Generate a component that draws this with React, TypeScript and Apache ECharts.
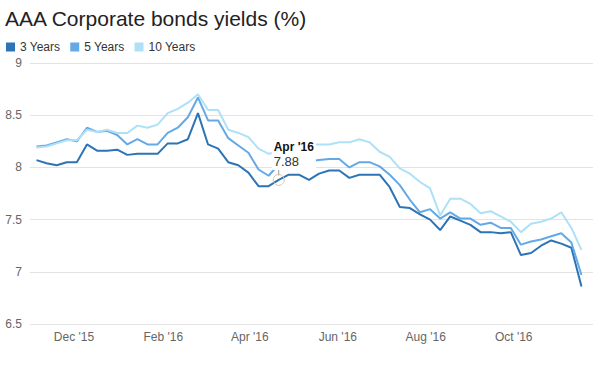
import React, { useEffect, useRef } from "react";
import * as echarts from "echarts";

const title = "AAA Corporate bonds yields (%)";
const seriesNames = ["3 Years", "5 Years", "10 Years"];
const seriesColors = ["#2c74b5", "#64a9e6", "#aee0f7"];

const dates = [
  "2015-11-05", "2015-11-12", "2015-11-19", "2015-11-26",
  "2015-12-03", "2015-12-10", "2015-12-17", "2015-12-24", "2015-12-31",
  "2016-01-07", "2016-01-14", "2016-01-21", "2016-01-28",
  "2016-02-04", "2016-02-11", "2016-02-18", "2016-02-25",
  "2016-03-03", "2016-03-10", "2016-03-17", "2016-03-24", "2016-03-31",
  "2016-04-07", "2016-04-14", "2016-04-21", "2016-04-28",
  "2016-05-05", "2016-05-12", "2016-05-19", "2016-05-26",
  "2016-06-02", "2016-06-09", "2016-06-16", "2016-06-23", "2016-06-30",
  "2016-07-07", "2016-07-14", "2016-07-21", "2016-07-28",
  "2016-08-04", "2016-08-11", "2016-08-18", "2016-08-25",
  "2016-09-01", "2016-09-08", "2016-09-15", "2016-09-22", "2016-09-29",
  "2016-10-06", "2016-10-13", "2016-10-20", "2016-10-27",
  "2016-11-03", "2016-11-10", "2016-11-17",
];

const years3 = [
  8.07, 8.04, 8.02, 8.05, 8.05, 8.22, 8.16, 8.16, 8.17, 8.12,
  8.13, 8.13, 8.13, 8.23, 8.23, 8.27, 8.52, 8.22, 8.18, 8.05,
  8.02, 7.95, 7.82, 7.82, 7.88, 7.93, 7.93, 7.88, 7.94, 7.97,
  7.97, 7.90, 7.93, 7.93, 7.93, 7.81, 7.62, 7.61, 7.55, 7.50,
  7.40, 7.53, 7.49, 7.45, 7.38, 7.38, 7.37, 7.38, 7.16, 7.18,
  7.25, 7.30, 7.27, 7.23, 6.86,
];

const years5 = [
  8.20, 8.21, 8.24, 8.27, 8.25, 8.38, 8.34, 8.35, 8.31, 8.22,
  8.27, 8.22, 8.22, 8.33, 8.38, 8.48, 8.67, 8.45, 8.45, 8.28,
  8.21, 8.14, 7.98, 7.92, 8.03, 8.06, 8.06, 8.06, 8.07, 8.08,
  8.08, 8.00, 8.05, 8.05, 8.01, 7.93, 7.83, 7.69, 7.57, 7.60,
  7.51, 7.57, 7.51, 7.51, 7.45, 7.47, 7.42, 7.42, 7.26, 7.29,
  7.31, 7.34, 7.37, 7.28, 6.97,
];

const years10 = [
  8.19, 8.20, 8.23, 8.26, 8.26, 8.36, 8.34, 8.36, 8.33, 8.33,
  8.40, 8.38, 8.41, 8.52, 8.56, 8.62, 8.70, 8.55, 8.55, 8.36,
  8.33, 8.29, 8.18, 8.13, 8.15, 8.20, 8.21, 8.22, 8.22, 8.22,
  8.24, 8.24, 8.27, 8.24, 8.15, 8.10, 7.99, 7.94, 7.86, 7.80,
  7.54, 7.70, 7.70, 7.65, 7.56, 7.58, 7.53, 7.48, 7.38, 7.46,
  7.48, 7.51, 7.57, 7.42, 7.21,
];

const monthAbbr = ["Jan", "Feb", "Mar", "Apr", "May", "Jun", "Jul", "Aug", "Sep", "Oct", "Nov", "Dec"];
const xTickMonths = [
  [2015, 11], [2016, 1], [2016, 3], [2016, 5], [2016, 7], [2016, 9],
];
const yTicks = { min: 6.5, max: 9, interval: 0.5 };
const highlightIndex = 24;

function toTs(s: string) {
  const p = s.split("-").map(Number);
  return new Date(p[0], p[1] - 1, p[2]).getTime();
}

function monthLabel(ts: number) {
  const d = new Date(ts);
  return monthAbbr[d.getMonth()] + " '" + String(d.getFullYear()).slice(2);
}

export default function App() {
  const ref = useRef<HTMLDivElement>(null);
  useEffect(() => {
    if (!ref.current) return;
    const chart = echarts.init(ref.current, undefined, { renderer: "svg" });
    const allSeries = [years3, years5, years10];
    const xs = dates.map(toTs);
    const hlX = xs[highlightIndex];
    const hlVal = years3[highlightIndex];
    const hlName = monthLabel(hlX);

    chart.setOption({
      animation: false,
      textStyle: { fontFamily: "Liberation Sans, Arial, sans-serif" },
      title: {
        text: title,
        left: 0,
        top: 3,
        textStyle: { fontSize: 21, fontWeight: "normal", color: "#222", fontFamily: "Liberation Sans, Arial, sans-serif" },
      },
      legend: {
        left: 1,
        top: 36,
        icon: "rect",
        itemWidth: 9,
        itemHeight: 9,
        itemGap: 10,
        textStyle: { fontSize: 12, color: "#333" },
        data: seriesNames,
      },
      grid: { left: 30, right: 14, top: 63, bottom: 42, containLabel: false },
      xAxis: {
        type: "value",
        min: new Date(2015, 9, 31, 12).getTime(),
        max: new Date(2016, 10, 25, 0).getTime(),
        axisLine: { show: false },
        axisTick: { show: false },
        splitLine: { show: false },
        axisLabel: {
          customValues: xTickMonths.map(([y, m]) => new Date(y, m, 1).getTime()),
          formatter: (v: number) => monthLabel(v),
          color: "#666",
          fontSize: 12,
          margin: 7,
        },
      },
      yAxis: {
        type: "value",
        min: yTicks.min,
        max: yTicks.max,
        interval: yTicks.interval,
        axisLine: { show: false },
        axisTick: { show: false },
        axisLabel: { color: "#666", fontSize: 12, margin: 8 },
        splitLine: { lineStyle: { color: "#e3e3e3", width: 1 } },
      },
      series: seriesNames.map((name, si) => ({
        name,
        type: "line",
        showSymbol: false,
        symbol: "none",
        color: seriesColors[si],
        lineStyle: { width: 2, color: seriesColors[si] },
        data: xs.map((x, i) => [x, allSeries[si][i]]),
        z: 2 + si,
        markPoint:
          si === 2
            ? {
                z: 10,
                data: [
                  {
                    coord: [hlX, hlVal],
                    symbol: "rect",
                    symbolSize: [1, 9],
                    symbolOffset: [0, -9],
                    itemStyle: { color: "#9a9a9a" },
                    label: { show: false },
                  },
                  {
                    coord: [hlX, hlVal],
                    name: hlName,
                    value: hlVal,
                    symbol: "circle",
                    symbolSize: 11,
                    itemStyle: { color: "rgba(255,255,255,0)", borderColor: "#e2c4a6", borderWidth: 1 },
                    label: {
                      show: true,
                      position: [-1, -35],
                      align: "left",
                      verticalAlign: "top",
                      backgroundColor: "#fff",
                      padding: [1, 2, 1, 2],
                      formatter: (p: any) => "{a|" + p.name + "}\n{b|" + Number(p.value).toFixed(2) + "}",
                      rich: {
                        a: { fontSize: 12, fontWeight: "bold", color: "#111", lineHeight: 14 },
                        b: { fontSize: 13, color: "#333", lineHeight: 15 },
                      },
                    },
                  },
                ],
              }
            : undefined,
      })),
    });
    return () => chart.dispose();
  }, []);
  return <div ref={ref} style={{ width: 607, height: 366, position: "absolute", left: 0, top: 0 }} />;
}
